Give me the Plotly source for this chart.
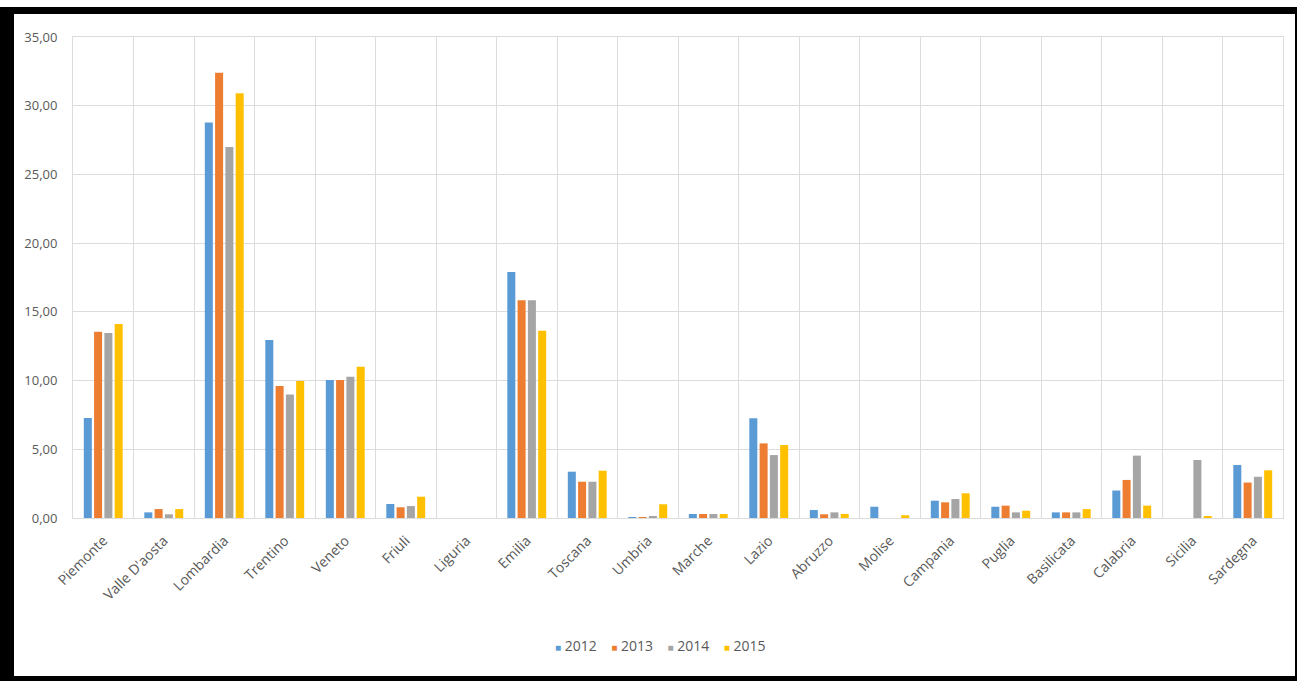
import plotly.graph_objects as go

# Regions (x categories)
regions = ["Piemonte", "Valle D'aosta", "Lombardia", "Trentino", "Veneto", "Friuli",
           "Liguria", "Emilia", "Toscana", "Umbria", "Marche", "Lazio", "Abruzzo",
           "Molise", "Campania", "Puglia", "Basilicata", "Calabria", "Sicilia", "Sardegna"]

years = ["2012", "2013", "2014", "2015"]

v2012 = [7.28, 0.41, 28.77, 12.95, 10.04, 1.02, 0.00, 17.90, 3.37, 0.05,
         0.29, 7.25, 0.58, 0.82, 1.26, 0.82, 0.41, 2.00, 0.00, 3.86]
v2013 = [13.56, 0.65, 32.40, 9.60, 10.04, 0.78, 0.00, 15.85, 2.64, 0.05,
         0.29, 5.43, 0.27, 0.00, 1.14, 0.90, 0.41, 2.77, 0.00, 2.58]
v2014 = [13.46, 0.27, 27.00, 8.98, 10.28, 0.87, 0.00, 15.85, 2.64, 0.08,
         0.29, 4.58, 0.41, 0.00, 1.38, 0.41, 0.41, 4.54, 4.22, 3.00]
v2015 = [14.12, 0.65, 30.90, 9.97, 11.00, 1.55, 0.00, 13.63, 3.44, 1.00,
         0.29, 5.31, 0.30, 0.20, 1.80, 0.53, 0.65, 0.90, 0.10, 3.47]

series = [v2012, v2013, v2014, v2015]
colors = ["#5B9BD5", "#ED7D31", "#A5A5A5", "#FFC000"]

W, H = 1297, 681
ML, MR, MT, MB = 73, 14, 37, 163
PW, PH = W - ML - MR, H - MT - MB

TEXT = "#595959"
GRID = "#DCDCDC"
FONT = "Open Sans"


def px_x(x):
    return (x - ML) / PW


def px_y(y):
    return (H - MB - y) / PH


fig = go.Figure()
for name, vals, col in zip(years, series, colors):
    fig.add_trace(go.Bar(x=regions, y=vals, name=name, marker_color=col,
                         marker_line_width=0, showlegend=False))

# compact legend line: coloured squares followed by the year
legend_parts = [
    f"<span style='color:{c};font-size:10px'>■</span> {y}" for y, c in zip(years, colors)
]
fig.add_annotation(text="&nbsp;&nbsp;&nbsp;&nbsp;".join(legend_parts),
                   xref="paper", yref="paper", x=px_x(660), y=px_y(645),
                   xanchor="center", yanchor="middle", showarrow=False,
                   font=dict(family=FONT, size=14, color=TEXT))

# black frame around the whole image
frame = [
    (0, 7, W, 14),        # top
    (0, 7, 14, H),        # left
    (0, 676, W, H),       # bottom
    (1295, 7, W, H),      # right
]
for x0, y0, x1, y1 in frame:
    fig.add_shape(type="rect", xref="paper", yref="paper",
                  x0=px_x(x0), x1=px_x(x1), y0=px_y(y1), y1=px_y(y0),
                  fillcolor="black", line_width=0, layer="above")

fig.update_layout(
    width=W, height=H,
    margin=dict(l=ML, r=MR, t=MT, b=MB),
    paper_bgcolor="white", plot_bgcolor="white",
    barmode="group", bargap=0.32, bargroupgap=0.22,
    separators=",.",
    font=dict(family=FONT, size=13, color=TEXT),
)
fig.update_xaxes(
    type="category", tickson="boundaries", showgrid=True, gridcolor=GRID, gridwidth=1,
    tickangle=-45, ticks="outside", ticklen=16, tickcolor="rgba(0,0,0,0)",
    ticklabelstandoff=8,
    showline=True, linecolor=GRID, mirror=True,
    tickfont=dict(family=FONT, size=14, color=TEXT),
)
fig.update_yaxes(
    range=[0, 35], dtick=5, tickformat=".2f", showgrid=True, gridcolor=GRID,
    gridwidth=1, zeroline=False, showline=True, linecolor=GRID, mirror=True,
    ticks="outside", ticklen=12, tickcolor="rgba(0,0,0,0)",
    tickfont=dict(family=FONT, size=13, color=TEXT),
)

fig.write_html("out.html")
